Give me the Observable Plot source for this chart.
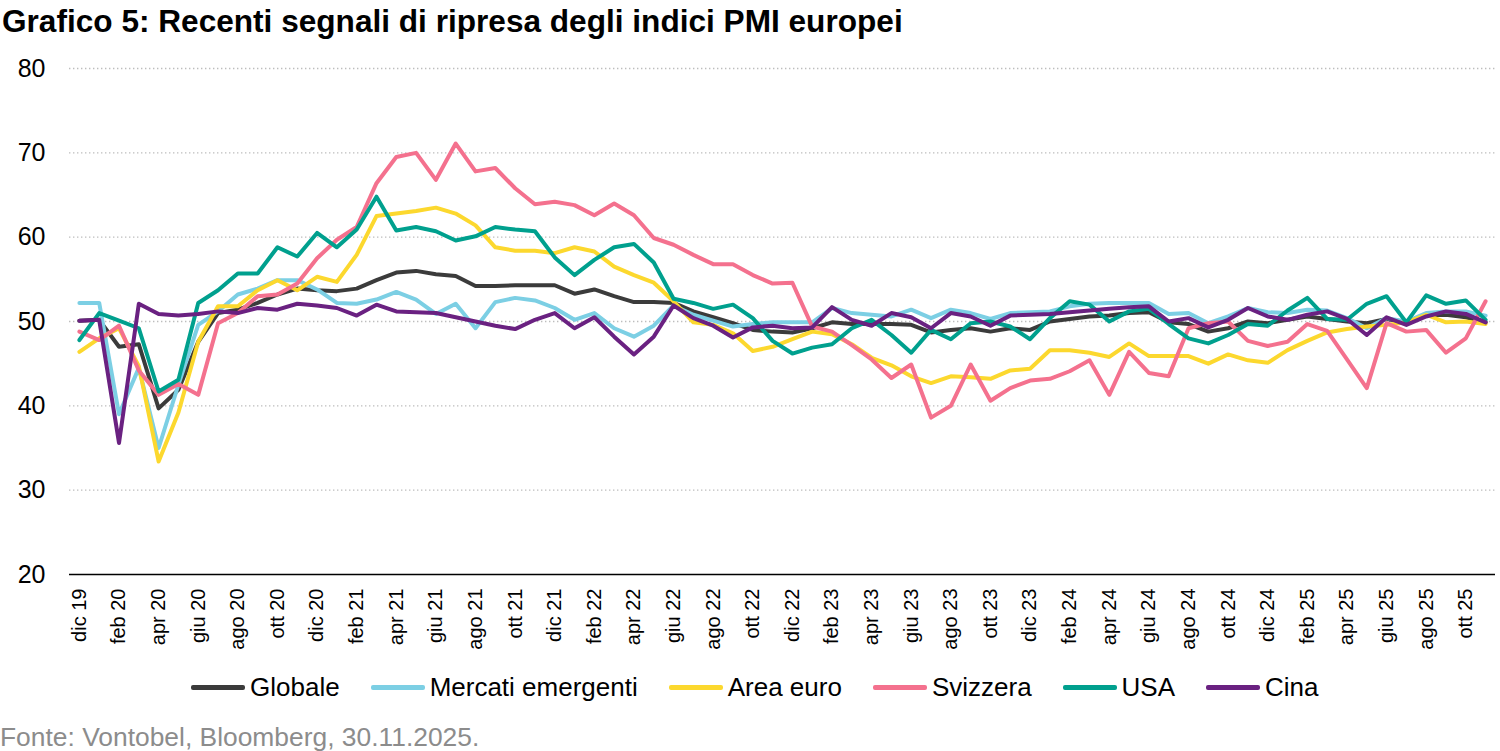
<!DOCTYPE html>
<html><head><meta charset="utf-8">
<script src="https://cdn.jsdelivr.net/npm/d3@7"></script>
<script src="https://cdn.jsdelivr.net/npm/@observablehq/plot@0.6"></script>
<style>
body{margin:0;background:#fff;font-family:"Liberation Sans",Arial,sans-serif;}
#wrap{position:relative;width:1500px;height:751px;overflow:hidden;background:#fff}
#chart{position:absolute;left:0;top:0}
#title{position:absolute;left:2px;top:4px;font-size:31.6px;font-weight:bold;line-height:35px;color:#000;white-space:nowrap}
#legend{position:absolute;left:191px;top:672px;display:flex;align-items:center;gap:31px;font-size:26px;line-height:30px;color:#000;white-space:nowrap}
.item{display:flex;align-items:center;gap:5px}
.sw{width:54px;height:5px;border-radius:2px}
#caption{position:absolute;left:0;top:722px;font-size:26.4px;line-height:30px;color:#8c8c8c;white-space:nowrap}
</style></head><body>
<div id="wrap">
<div id="chart"></div>
<div id="title">Grafico 5: Recenti segnali di ripresa degli indici PMI europei</div>
<div id="legend"></div>
<div id="caption">Fonte: Vontobel, Bloomberg, 30.11.2025.</div>
</div>
<script>
const months = [
"dic 19",
"gen 20","feb 20","mar 20","apr 20","mag 20","giu 20","lug 20","ago 20","set 20","ott 20","nov 20","dic 20",
"gen 21","feb 21","mar 21","apr 21","mag 21","giu 21","lug 21","ago 21","set 21","ott 21","nov 21","dic 21",
"gen 22","feb 22","mar 22","apr 22","mag 22","giu 22","lug 22","ago 22","set 22","ott 22","nov 22","dic 22",
"gen 23","feb 23","mar 23","apr 23","mag 23","giu 23","lug 23","ago 23","set 23","ott 23","nov 23","dic 23",
"gen 24","feb 24","mar 24","apr 24","mag 24","giu 24","lug 24","ago 24","set 24","ott 24","nov 24","dic 24",
"gen 25","feb 25","mar 25","apr 25","mag 25","giu 25","lug 25","ago 25","set 25","ott 25","nov 25"];

const globale = [50.1,
50.2,47.0,47.3,39.7,41.9,47.6,51.0,51.4,52.2,53.2,53.9,53.7,
53.6,53.9,54.9,55.8,56.0,55.6,55.4,54.2,54.2,54.3,54.3,54.3,
53.3,53.8,53.0,52.3,52.3,52.2,51.2,50.5,49.8,49.0,48.8,48.7,
49.2,49.9,49.7,49.7,49.7,49.6,48.7,49.0,49.2,48.8,49.2,49.0,
50.0,50.3,50.6,50.7,51.0,51.1,49.9,49.7,48.8,49.2,50.0,49.8,
50.2,50.6,50.3,50.0,49.8,50.3,49.9,50.7,50.8,50.5,49.9];

const mercatiEmergenti = [52.2,
52.2,39.0,44.5,35.0,42.5,49.6,51.2,53.2,53.9,54.9,54.9,53.8,
52.2,52.1,52.6,53.5,52.6,50.9,52.1,49.2,52.3,52.8,52.5,51.6,
50.2,51.0,49.2,48.2,49.5,51.9,50.8,50.1,49.4,49.7,49.9,49.9,
49.9,51.6,51.0,50.8,50.6,51.4,50.4,51.4,51.0,50.3,51.0,51.1,
51.2,51.8,52.1,52.2,52.2,52.2,50.9,51.0,49.8,50.6,51.6,51.1,
51.0,51.4,51.3,50.4,49.2,50.4,50.0,51.0,51.2,51.2,50.7];

const areaEuro = [46.4,
48.0,49.2,44.7,33.4,39.2,47.6,51.8,51.8,53.7,54.9,53.7,55.3,
54.7,57.9,62.5,62.8,63.1,63.5,62.8,61.4,58.8,58.4,58.4,58.1,
58.8,58.3,56.5,55.5,54.6,52.4,49.9,49.6,48.6,46.5,47.0,47.9,
48.8,48.5,47.3,45.7,44.8,43.5,42.7,43.5,43.4,43.2,44.2,44.4,
46.6,46.6,46.3,45.8,47.4,45.9,45.9,45.9,45.0,46.1,45.4,45.1,
46.6,47.7,48.7,49.1,49.4,49.6,49.9,50.8,49.9,50.0,49.7];

const svizzera = [48.8,
47.8,49.5,44.2,41.3,42.6,41.3,49.8,51.0,53.0,53.2,54.5,57.5,
59.7,61.2,66.4,69.5,70.0,66.8,71.1,67.8,68.2,65.8,63.9,64.2,
63.8,62.6,64.0,62.6,59.9,59.1,57.9,56.8,56.8,55.5,54.5,54.6,
49.4,48.8,47.2,45.5,43.3,44.9,38.6,40.0,44.9,40.6,42.1,43.0,
43.2,44.1,45.4,41.3,46.4,43.9,43.5,49.2,49.8,50.0,47.7,47.1,
47.6,49.7,48.9,45.5,42.1,49.8,48.8,49.0,46.3,48.0,52.4];

const usa = [47.8,
51.0,50.1,49.2,41.7,43.1,52.2,53.7,55.7,55.7,58.8,57.7,60.5,
58.8,60.9,64.8,60.8,61.2,60.7,59.6,60.1,61.2,60.9,60.7,57.6,
55.5,57.3,58.8,59.2,57.0,52.7,52.2,51.5,52.0,50.4,47.7,46.2,
46.9,47.3,49.2,50.2,48.4,46.3,49.0,47.9,49.8,50.0,49.4,47.9,
50.4,52.4,52.0,50.0,51.2,51.5,49.7,48.0,47.4,48.4,49.7,49.5,
51.3,52.8,50.3,50.2,52.1,53.0,49.9,53.1,52.1,52.5,50.2];

const cina = [50.1,
50.2,35.6,52.1,50.9,50.7,50.9,51.2,51.0,51.6,51.4,52.1,51.9,
51.6,50.7,52.0,51.2,51.1,51.0,50.5,50.0,49.5,49.1,50.2,51.0,
49.2,50.5,48.2,46.1,48.2,51.9,50.4,49.5,48.1,49.3,49.5,49.2,
49.3,51.7,50.2,49.5,51.0,50.5,49.2,51.0,50.6,49.5,50.7,50.8,
50.9,51.1,51.3,51.5,51.7,51.8,50.0,50.4,49.3,50.2,51.6,50.6,
50.2,50.8,51.2,50.3,48.4,50.5,49.6,50.6,51.2,50.9,49.9];

const seriesNames = ["Globale","Mercati emergenti","Area euro","Svizzera","USA","Cina"];
const seriesValues = [globale, mercatiEmergenti, areaEuro, svizzera, usa, cina];
const seriesColors = ["#3b3b3b","#7ccfe4","#fcd82e","#f4718e","#00a08e","#6a2181"];
const yTicks = [20,30,40,50,60,70,80];
const xTicks = months.map((m, i) => i).filter(i => i % 2 === 0);

const rows = [];
seriesNames.forEach((name, s) => seriesValues[s].forEach((v, i) => rows.push({i, v, name})));

const FONT = '"Liberation Sans", Arial, sans-serif';

const chart = Plot.plot({
  width: 1500,
  height: 660,
  marginLeft: 69,
  marginRight: 5,
  marginTop: 68,
  marginBottom: 86,
  x: {type: "linear", domain: [-0.5, 71.5]},
  y: {domain: [20, 80]},
  style: {fontFamily: FONT, color: "#000", background: "transparent", overflow: "visible"},
  marks: [
    Plot.ruleY(yTicks.filter(t => t > 20), {stroke: "#bdbdbd", strokeWidth: 1.4, strokeDasharray: "1.4,2.6"}),
    Plot.axisY({ticks: yTicks, tickSize: 0, tickPadding: 24, fontSize: 25, label: null}),
    Plot.axisX({ticks: xTicks, tickFormat: i => months[i], tickRotate: -90, tickSize: 0, tickPadding: 14,
      fontSize: 20, textAnchor: "end", lineAnchor: "middle", label: null}),
    ...seriesNames.map((name, s) => Plot.line(rows.filter(d => d.name === name),
      {x: "i", y: "v", stroke: seriesColors[s], strokeWidth: 4, strokeLinejoin: "round"})),
    Plot.ruleY([20], {stroke: "#000", strokeWidth: 1.5})
  ]
});
document.getElementById("chart").appendChild(chart);

const legend = document.getElementById("legend");
seriesNames.forEach((name, s) => {
  const item = document.createElement("div");
  item.className = "item";
  const sw = document.createElement("div");
  sw.className = "sw";
  sw.style.background = seriesColors[s];
  const tx = document.createElement("span");
  tx.textContent = name;
  item.appendChild(sw);
  item.appendChild(tx);
  legend.appendChild(item);
});
</script></body></html>
